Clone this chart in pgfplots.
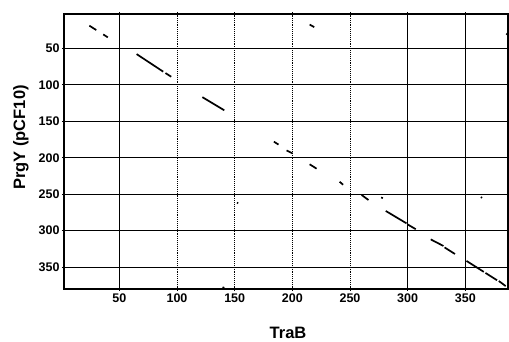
\documentclass[border=0pt]{standalone}
\usepackage{pgfplots}
\pgfplotsset{compat=1.18}
\usepackage{fontspec}
\setmainfont{Liberation Sans}
\begin{document}
\begin{tikzpicture}
\begin{axis}[
  at={(0,0)}, anchor=south west,
  scale only axis,
  width=444pt, height=275pt,
  xmin=2, xmax=387,
  ymin=3, ymax=380,
  y dir=reverse,
  axis line style={line width=1.4pt},
  xtick={50,300,350},
  extra x ticks={100,150,200,250},
  extra x tick style={grid style={black, densely dotted, line width=0.8pt}},
  ytick={50,100,150,200,250,300,350},
  grid=major,
  grid style={black, line width=0.9pt},
  tick align=center,
  major tick length=4pt,
  tick style={black, line width=0.8pt},
  /pgf/number format/assume math mode=true,
  ticklabel style={font=\fontsize{12.5}{13}\selectfont\bfseries},
  xticklabel style={yshift=1pt},
  yticklabel style={xshift=1pt},
  clip=true,
]
\addplot[black, line width=1.7pt, unbounded coords=jump] table {
x y
24 19
30 25
nan nan
36 31
40 35
nan nan
65 58
88 82
nan nan
90 84
95 89
nan nan
122 117
141 135
nan nan
215 17.5
219 21
nan nan
385.5 30
389 33.5
nan nan
184 178
188 182
nan nan
195 190
200 194
nan nan
215 209
221 215
nan nan
241 233
244 237
nan nan
260 251
266 258
nan nan
277 254.5
278.5 255.5
nan nan
281 273
299 290
nan nan
300 291.5
307 298
nan nan
320 312
331 321
nan nan
332 323
341 332
nan nan
351 341.5
366 356.5
nan nan
367.5 358
377.5 368
nan nan
379 369
385 376
nan nan
363.5 254
364.5 255
nan nan
152 261.5
153 262.5
nan nan
139.5 377.5
141 378.5
};
\end{axis}
\node[rotate=90, font=\fontsize{16.5}{17}\selectfont\bfseries] at (-43pt,151.5pt) {PrgY (pCF10)};
\node[anchor=base, font=\fontsize{16.5}{17}\selectfont\bfseries] at (224pt,-49pt) {TraB};
\pgfresetboundingbox
\path[use as bounding box] (-64pt,-52pt) rectangle (445pt,289pt);
\end{tikzpicture}
\end{document}
